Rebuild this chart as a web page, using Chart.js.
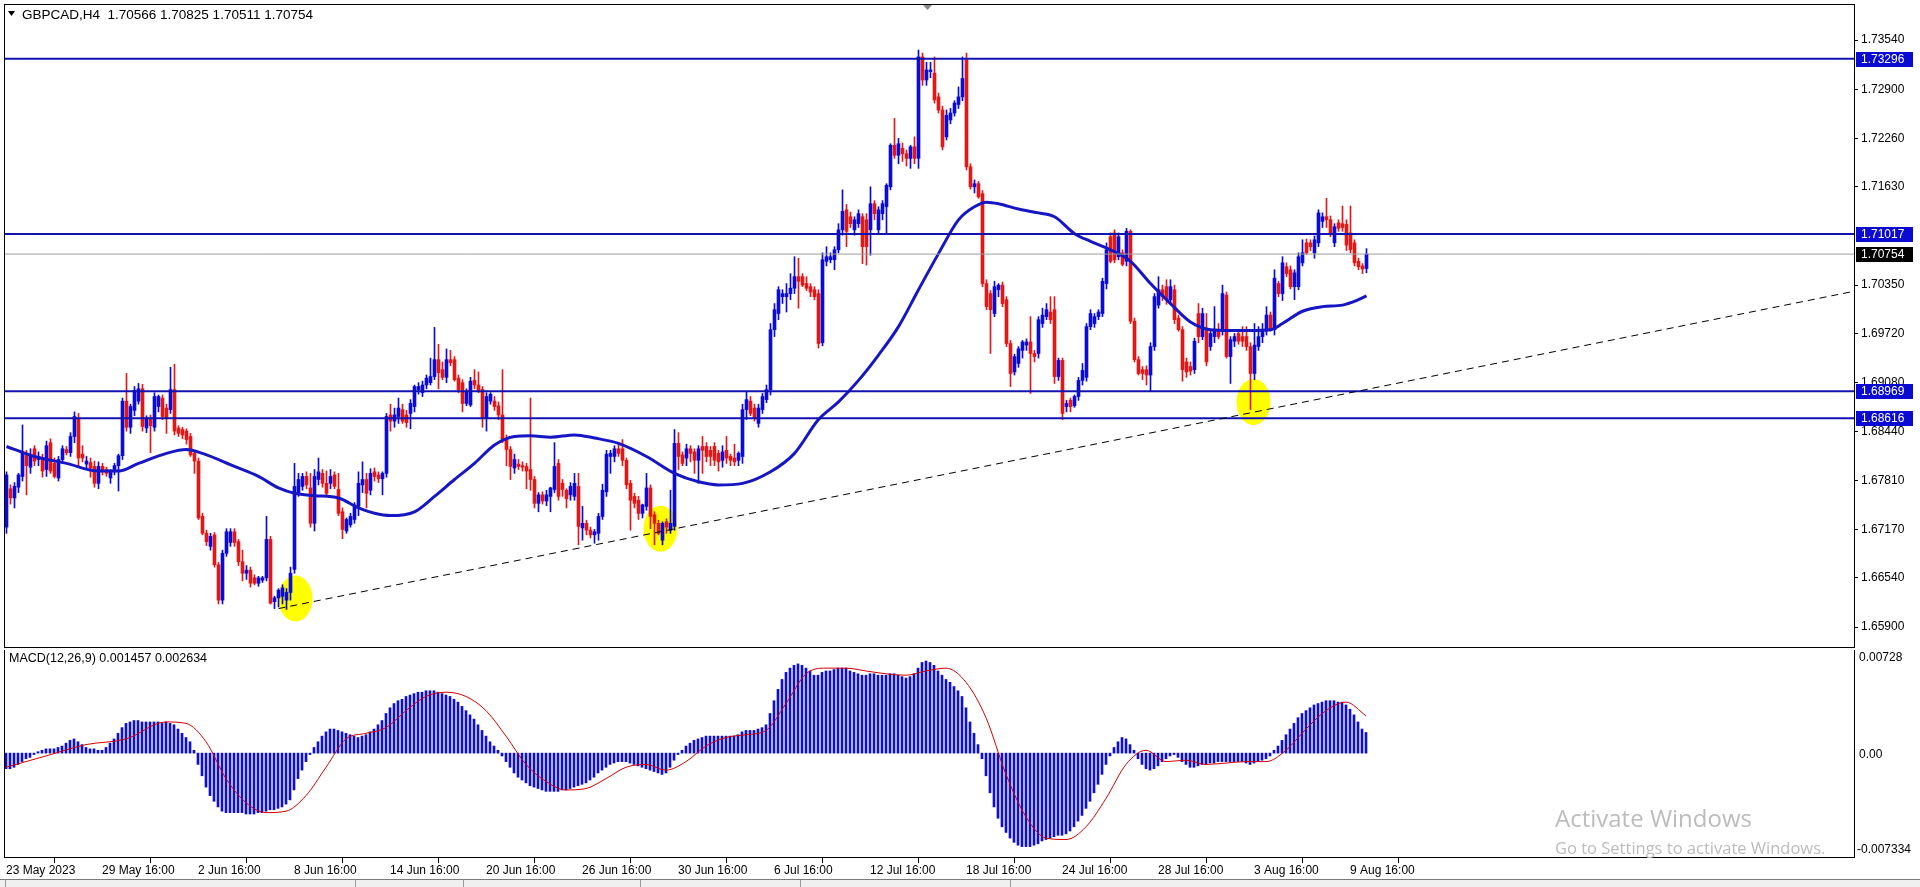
<!DOCTYPE html>
<html>
<head>
<meta charset="utf-8">
<title>GBPCAD,H4</title>
<script src="https://cdn.jsdelivr.net/npm/chart.js@4.4.0/dist/chart.umd.min.js"></script>
<style>
  html, body { margin: 0; padding: 0; background: #fff; width: 1920px; height: 887px; overflow: hidden; }
  #wrap { position: relative; width: 1920px; height: 887px; }
  canvas { position: absolute; left: 0; }
  #price { top: 0; }
  #macd { top: 650px; }
  .wm { position: absolute; left: 1555px; color: #bcbcbc; font-family: 'Open Sans', sans-serif; white-space: nowrap; }
  #wm1 { top: 801px; font-size: 24px; }
  #wm2 { top: 836px; font-size: 16.5px; }
  #tabs { position: absolute; left: 0; top: 879px; width: 1920px; height: 8px; background: #f0f0f0; border-top: 1px solid #7a7a7a; }
  #tabs span { position: absolute; top: 0; height: 8px; border-left: 1px solid #9a9a9a; }
</style>
</head>
<body>
<div id="wrap">
  <canvas id="price" width="1920" height="650"></canvas>
  <canvas id="macd" width="1920" height="237"></canvas>
  <div class="wm" id="wm1">Activate Windows</div>
  <div class="wm" id="wm2">Go to Settings to activate Windows.</div>
  <div id="tabs">
    <span style="left:5px"></span><span style="left:355px"></span><span style="left:463px"></span>
    <span style="left:640px"></span><span style="left:800px"></span><span style="left:1010px"></span>
  </div>
</div>
<script>
'use strict';

// ---- data (GBPCAD H4, bar 0 = 23 May 2023 16:00) ----
const opens = [
  1.6720,1.6770,1.6758,1.6772,1.6786,1.6816,1.6798,1.6822,1.6808,1.6810,
  1.6795,1.6830,1.6803,1.6784,1.6808,1.6821,1.6817,1.6838,1.6862,1.6815,
  1.6802,1.6804,1.6799,1.6777,1.6799,1.6795,1.6784,1.6792,1.6800,1.6813,
  1.6884,1.6850,1.6872,1.6884,1.6900,1.6849,1.6862,1.6850,1.6877,1.6888,
  1.6875,1.6873,1.6899,1.6849,1.6847,1.6845,1.6838,1.6816,1.6806,1.6734,
  1.6712,1.6695,1.6710,1.6671,1.6625,1.6686,1.6700,1.6714,1.6701,1.6675,
  1.6660,1.6664,1.6654,1.6647,1.6651,1.6654,1.6704,1.6623,1.6628,1.6630,
  1.6625,1.6635,1.6665,1.6764,1.6773,1.6786,1.6771,1.6725,1.6782,1.6790,
  1.6777,1.6777,1.6788,1.6769,1.6740,1.6715,1.6723,1.6730,1.6747,1.6775,
  1.6782,1.6768,1.6792,1.6788,1.6783,1.6790,1.6866,1.6858,1.6864,1.6873,
  1.6866,1.6868,1.6877,1.6899,1.6895,1.6905,1.6908,1.6916,1.6938,1.6925,
  1.6915,1.6938,1.6938,1.6914,1.6908,1.6881,1.6879,1.6911,1.6905,1.6899,
  1.6862,1.6884,1.6884,1.6878,1.6866,1.6834,1.6821,1.6797,1.6802,1.6800,
  1.6799,1.6795,1.6782,1.6751,1.6762,1.6754,1.6760,1.6769,1.6803,1.6777,
  1.6768,1.6762,1.6760,1.6773,1.6719,1.6725,1.6716,1.6710,1.6712,1.6734,
  1.6766,1.6812,1.6812,1.6822,1.6822,1.6807,1.6777,1.6760,1.6755,1.6738,
  1.6747,1.6771,1.6736,1.6725,1.6703,1.6727,1.6716,1.6721,1.6829,1.6814,
  1.6810,1.6822,1.6818,1.6807,1.6825,1.6825,1.6820,1.6825,1.6816,1.6807,
  1.6820,1.6812,1.6810,1.6807,1.6812,1.6873,1.6884,1.6875,1.6855,1.6873,
  1.6886,1.6899,1.6977,1.6998,1.7020,1.7020,1.7024,1.7031,1.7046,1.7046,
  1.7037,1.7033,1.7029,1.7024,1.6960,1.7066,1.7068,1.7068,1.7081,1.7107,
  1.7133,1.7124,1.7107,1.7115,1.7124,1.7120,1.7107,1.7141,1.7107,1.7128,
  1.7137,1.7163,1.7217,1.7204,1.7213,1.7206,1.7200,1.7215,1.7200,1.7332,
  1.7302,1.7313,1.7311,1.7280,1.7263,1.7228,1.7250,1.7259,1.7270,1.7280,
  1.7328,1.7189,1.7163,1.7167,1.7154,1.7037,1.7024,1.6998,1.7029,1.7035,
  1.7016,1.6959,1.6922,1.6933,1.6950,1.6957,1.6961,1.6946,1.6946,1.6985,
  1.6994,1.7000,1.7003,1.6916,1.6937,1.6877,1.6885,1.6878,1.6890,1.6911,
  1.6915,1.6981,1.6985,1.6994,1.6998,1.7037,1.7098,1.7103,1.7072,1.7077,
  1.7066,1.7105,1.6988,1.6938,1.6925,1.6925,1.6918,1.6955,1.7009,1.7029,
  1.7033,1.7016,1.7029,1.6992,1.6977,1.6935,1.6929,1.6925,1.6998,1.6968,
  1.6977,1.6955,1.6968,1.6977,1.6977,1.7022,1.6942,1.6962,1.6972,1.6968,
  1.6968,1.6955,1.6920,1.6955,1.6968,1.6975,1.6996,1.6977,1.7037,1.7024,
  1.7059,1.7055,1.7033,1.7033,1.7064,1.7090,1.7090,1.7077,1.7090,1.7118,
  1.7124,1.7120,1.7090,1.7116,1.7115,1.7114,1.7103,1.7090,1.7066,1.7060,
  1.70566
];
const highs = [
  1.6792,1.6775,1.6778,1.6790,1.6853,1.6820,1.6822,1.6826,1.6818,1.6815,
  1.6832,1.6835,1.6810,1.6812,1.6826,1.6825,1.6843,1.6870,1.6868,1.6826,
  1.6812,1.6810,1.6806,1.6805,1.6803,1.6798,1.6795,1.6803,1.6815,1.6888,
  1.6920,1.6880,1.6903,1.6907,1.6906,1.6865,1.6866,1.6895,1.6892,1.6892,
  1.6880,1.6928,1.6932,1.6852,1.6850,1.6848,1.6842,1.6820,1.6810,1.6738,
  1.6716,1.6712,1.6713,1.6674,1.6690,1.6718,1.6718,1.6718,1.6704,1.6690,
  1.6670,1.6668,1.6658,1.6656,1.6656,1.6734,1.6708,1.6630,1.6640,1.6645,
  1.6640,1.6668,1.6803,1.6790,1.6790,1.6792,1.6790,1.6795,1.6810,1.6795,
  1.6793,1.6795,1.6792,1.6790,1.6745,1.6732,1.6738,1.6752,1.6792,1.6805,
  1.6790,1.6796,1.6797,1.6792,1.6792,1.6868,1.6880,1.6875,1.6888,1.6880,
  1.6872,1.6886,1.6905,1.6908,1.6910,1.6918,1.6940,1.6980,1.6958,1.6935,
  1.6952,1.6950,1.6942,1.6918,1.6912,1.6900,1.6915,1.6925,1.6922,1.6903,
  1.6895,1.6895,1.6890,1.6883,1.6925,1.6840,1.6825,1.6815,1.6808,1.6805,
  1.6803,1.6888,1.6786,1.6765,1.6766,1.6768,1.6772,1.6830,1.6808,1.6782,
  1.6770,1.6778,1.6790,1.6790,1.6747,1.6729,1.6720,1.6717,1.6738,1.6776,
  1.6820,1.6820,1.6826,1.6830,1.6834,1.6810,1.6781,1.6764,1.6760,1.6750,
  1.6790,1.6775,1.6740,1.6729,1.6727,1.6731,1.6768,1.6847,1.6843,1.6818,
  1.6828,1.6826,1.6822,1.6826,1.6838,1.6830,1.6825,1.6830,1.6820,1.6826,
  1.6838,1.6815,1.6828,1.6818,1.6880,1.6896,1.6890,1.6880,1.6880,1.6894,
  1.6905,1.6985,1.7011,1.7033,1.7029,1.7037,1.7050,1.7072,1.7070,1.7050,
  1.7046,1.7037,1.7033,1.7029,1.7077,1.7085,1.7077,1.7085,1.7115,1.7159,
  1.7140,1.7130,1.7124,1.7133,1.7128,1.7128,1.7163,1.7145,1.7137,1.7145,
  1.7167,1.7219,1.7252,1.7226,1.7220,1.7211,1.7217,1.7228,1.7341,1.7337,
  1.7325,1.7325,1.7332,1.7285,1.7268,1.7263,1.7265,1.7275,1.7293,1.7332,
  1.7337,1.7193,1.7172,1.7170,1.7158,1.7042,1.7028,1.7040,1.7037,1.7039,
  1.7020,1.6963,1.6945,1.6955,1.6963,1.6965,1.6994,1.6950,1.6994,1.7005,
  1.7011,1.7020,1.7020,1.6940,1.6940,1.6885,1.6888,1.6892,1.6915,1.6933,
  1.6985,1.7003,1.6998,1.7003,1.7044,1.7090,1.7103,1.7107,1.7103,1.7081,
  1.7109,1.7107,1.6992,1.6942,1.6929,1.6930,1.6960,1.7024,1.7046,1.7035,
  1.7042,1.7042,1.7035,1.6996,1.6981,1.6940,1.6935,1.6966,1.7011,1.7005,
  1.6998,1.6975,1.7007,1.6985,1.7035,1.7026,1.6968,1.6972,1.6977,1.6981,
  1.6981,1.6960,1.6985,1.6981,1.6985,1.7007,1.7000,1.7055,1.7040,1.7072,
  1.7064,1.7060,1.7055,1.7077,1.7094,1.7095,1.7094,1.7099,1.7133,1.7129,
  1.7148,1.7125,1.7115,1.7120,1.7138,1.7120,1.7138,1.7094,1.7070,1.7063,
  1.70825
];
const lows = [
  1.6712,1.6750,1.6745,1.6765,1.6780,1.6762,1.6790,1.6800,1.6800,1.6785,
  1.6786,1.6790,1.6784,1.6780,1.6805,1.6814,1.6812,1.6830,1.6800,1.6805,
  1.6795,1.6785,1.6772,1.6770,1.6788,1.6786,1.6777,1.6788,1.6767,1.6808,
  1.6845,1.6842,1.6865,1.6880,1.6845,1.6843,1.6817,1.6845,1.6870,1.6860,
  1.6842,1.6868,1.6840,1.6838,1.6835,1.6828,1.6812,1.6790,1.6730,1.6710,
  1.6696,1.6690,1.6668,1.6620,1.6620,1.6682,1.6695,1.6695,1.6670,1.6650,
  1.6652,1.6642,1.6645,1.6643,1.6648,1.6650,1.6620,1.6614,1.6616,1.6620,
  1.6613,1.6625,1.6660,1.6760,1.6768,1.6770,1.6720,1.6715,1.6775,1.6772,
  1.6760,1.6770,1.6770,1.6735,1.6705,1.6712,1.6720,1.6725,1.6735,1.6765,
  1.6745,1.6762,1.6780,1.6778,1.6762,1.6785,1.6845,1.6850,1.6855,1.6855,
  1.6850,1.6848,1.6870,1.6893,1.6890,1.6900,1.6905,1.6912,1.6900,1.6912,
  1.6908,1.6930,1.6910,1.6895,1.6870,1.6878,1.6877,1.6900,1.6895,1.6850,
  1.6845,1.6880,1.6872,1.6860,1.6830,1.6800,1.6782,1.6790,1.6795,1.6793,
  1.6770,1.6768,1.6745,1.6740,1.6750,1.6748,1.6740,1.6765,1.6755,1.6760,
  1.6745,1.6755,1.6755,1.6697,1.6703,1.6710,1.6706,1.6699,1.6703,1.6730,
  1.6760,1.6790,1.6805,1.6812,1.6800,1.6770,1.6716,1.6745,1.6730,1.6732,
  1.6742,1.6718,1.6697,1.6710,1.6697,1.6712,1.6712,1.6716,1.6795,1.6800,
  1.6800,1.6805,1.6790,1.6777,1.6790,1.6805,1.6800,1.6800,1.6793,1.6798,
  1.6803,1.6800,1.6800,1.6800,1.6803,1.6860,1.6865,1.6858,1.6850,1.6868,
  1.6882,1.6892,1.6968,1.6990,1.7011,1.7000,1.7016,1.7024,1.7005,1.7033,
  1.7028,1.7020,1.7016,1.6953,1.6956,1.7060,1.7064,1.7055,1.7077,1.7100,
  1.7085,1.7110,1.7100,1.7110,1.7063,1.7061,1.7074,1.7120,1.7102,1.7120,
  1.7102,1.7159,1.7200,1.7193,1.7196,1.7190,1.7187,1.7193,1.7187,1.7295,
  1.7295,1.7305,1.7272,1.7259,1.7211,1.7224,1.7245,1.7255,1.7265,1.7275,
  1.7185,1.7160,1.7155,1.7148,1.7033,1.7003,1.6946,1.6994,1.7020,1.7007,
  1.6955,1.6903,1.6918,1.6928,1.6940,1.6950,1.6894,1.6935,1.6940,1.6980,
  1.6990,1.6985,1.6907,1.6911,1.6860,1.6870,1.6870,1.6876,1.6885,1.6905,
  1.6910,1.6977,1.6980,1.6990,1.6994,1.7030,1.7064,1.7064,1.7068,1.7060,
  1.7060,1.6985,1.6935,1.6918,1.6912,1.6905,1.6897,1.6950,1.7005,1.7015,
  1.7010,1.7010,1.6985,1.6975,1.6910,1.6915,1.6918,1.6920,1.6960,1.6964,
  1.6930,1.6950,1.6960,1.6965,1.6970,1.6940,1.6907,1.6955,1.6958,1.6955,
  1.6950,1.6873,1.6912,1.6950,1.6960,1.6970,1.6975,1.6970,1.7020,1.7015,
  1.7046,1.7030,1.7016,1.7029,1.7060,1.7075,1.7080,1.7070,1.7085,1.7110,
  1.7110,1.7098,1.7085,1.7105,1.7105,1.7080,1.7077,1.7060,1.7055,1.7050,
  1.70511
];
const closes = [
  1.6788,1.6758,1.6773,1.6788,1.6816,1.6800,1.6814,1.6806,1.6812,1.6793,
  1.6826,1.6793,1.6786,1.6808,1.6822,1.6817,1.6838,1.6864,1.6810,1.6810,
  1.6806,1.6797,1.6777,1.6799,1.6792,1.6790,1.6792,1.6800,1.6813,1.6884,
  1.6850,1.6877,1.6898,1.6900,1.6851,1.6862,1.6852,1.6890,1.6890,1.6864,
  1.6862,1.6899,1.6845,1.6842,1.6840,1.6834,1.6814,1.6806,1.6732,1.6712,
  1.6701,1.6708,1.6671,1.6625,1.6686,1.6714,1.6714,1.6700,1.6675,1.6660,
  1.6664,1.6647,1.6647,1.6654,1.6654,1.6704,1.6621,1.6628,1.6638,1.6641,
  1.6635,1.6660,1.6773,1.6782,1.6786,1.6775,1.6725,1.6786,1.6792,1.6777,
  1.6764,1.6786,1.6773,1.6738,1.6717,1.6730,1.6734,1.6749,1.6777,1.6782,
  1.6764,1.6790,1.6786,1.6783,1.6790,1.6864,1.6858,1.6866,1.6875,1.6858,
  1.6856,1.6881,1.6903,1.6903,1.6905,1.6914,1.6916,1.6938,1.6921,1.6915,
  1.6938,1.6934,1.6912,1.6899,1.6881,1.6897,1.6910,1.6905,1.6898,1.6862,
  1.6890,1.6893,1.6877,1.6866,1.6834,1.6821,1.6799,1.6808,1.6799,1.6798,
  1.6793,1.6782,1.6751,1.6762,1.6754,1.6762,1.6771,1.6799,1.6760,1.6769,
  1.6757,1.6773,1.6777,1.6721,1.6725,1.6716,1.6710,1.6714,1.6734,1.6768,
  1.6815,1.6816,1.6822,1.6816,1.6807,1.6775,1.6755,1.6751,1.6738,1.6749,
  1.6771,1.6734,1.6725,1.6712,1.6725,1.6720,1.6725,1.6829,1.6812,1.6803,
  1.6822,1.6816,1.6807,1.6822,1.6820,1.6812,1.6812,1.6807,1.6805,1.6818,
  1.6810,1.6807,1.6805,1.6816,1.6873,1.6886,1.6868,1.6862,1.6875,1.6890,
  1.6899,1.6977,1.7003,1.7029,1.7024,1.7024,1.7031,1.7046,1.7040,1.7035,
  1.7031,1.7026,1.7020,1.6959,1.7068,1.7072,1.7072,1.7081,1.7107,1.7131,
  1.7105,1.7115,1.7120,1.7128,1.7085,1.7085,1.7141,1.7128,1.7133,1.7141,
  1.7165,1.7217,1.7204,1.7219,1.7206,1.7200,1.7215,1.7200,1.7332,1.7302,
  1.7315,1.7315,1.7276,1.7263,1.7215,1.7256,1.7259,1.7272,1.7280,1.7304,
  1.7189,1.7163,1.7167,1.7150,1.7037,1.7007,1.7003,1.7033,1.7035,1.7011,
  1.6959,1.6920,1.6942,1.6952,1.6961,1.6961,1.6946,1.6942,1.6990,1.6996,
  1.7003,1.6990,1.6916,1.6937,1.6868,1.6881,1.6877,1.6890,1.6911,1.6924,
  1.6981,1.6998,1.6994,1.7000,1.7040,1.7081,1.7066,1.7068,1.7098,1.7062,
  1.7105,1.6988,1.6938,1.6920,1.6920,1.6918,1.6955,1.7020,1.7029,1.7020,
  1.7016,1.7033,1.6990,1.6977,1.6925,1.6922,1.6923,1.6962,1.6968,1.6998,
  1.6935,1.6972,1.6977,1.6968,1.7024,1.6942,1.6964,1.6968,1.6962,1.6962,
  1.6955,1.6920,1.6957,1.6968,1.6977,1.6996,1.6977,1.7044,1.7024,1.7064,
  1.7050,1.7033,1.7051,1.7072,1.7077,1.7077,1.7085,1.7094,1.7129,1.7124,
  1.7120,1.7103,1.7111,1.7109,1.7110,1.7087,1.7081,1.7064,1.7059,1.7056,
  1.70754
];

// moving average (thick blue line), read at selected bars
const maBars = [0,7,15,23,28,33,40,45,49,57,63,68,72,77,83,88,92,96,102,107,112,117,122,127,131,136,142,147,153,160,167,173,178,184,191,197,203,208,213,218,223,228,233,238,242,245,248,253,258,262,267,271,276,281,286,291,296,301,306,311,316,319,324,329,334,338,340];
const maValues = [1.6825,1.6812,1.6803,1.6793,1.6793,1.6803,1.6816,1.6821,1.6816,1.6799,1.6786,1.6771,1.6764,1.6761,1.6758,1.6745,1.6738,1.6735,1.6740,1.6760,1.6782,1.6803,1.6827,1.6838,1.6839,1.6837,1.6840,1.6836,1.6829,1.6812,1.6790,1.6779,1.6775,1.6777,1.6792,1.6816,1.6860,1.6883,1.6911,1.6944,1.6981,1.7029,1.7076,1.7120,1.7137,1.7143,1.7141,1.7134,1.7129,1.7124,1.7102,1.7092,1.7081,1.7066,1.7037,1.7011,1.6987,1.6977,1.6976,1.6976,1.6977,1.6985,1.7001,1.7007,1.7009,1.7016,1.7021];

// horizontal levels and current price
const levelPrices = [1.73296, 1.71017, 1.68969, 1.68616];
const lastPrice = 1.70754;

// dashed trend line (bar, price)
const trendBars = [68, 461.875];
const trendPrices = [1.6614, 1.7027];

// yellow highlight marks (bar, price)
const markBars = [72.25, 163.5, 311.75];
const markPrices = [1.6627, 1.6718, 1.6883];

const priceTicks = [1.73540, 1.72900, 1.72260, 1.71630, 1.70350, 1.69720, 1.69080, 1.68440, 1.67810, 1.67170, 1.66540, 1.65900];

// MACD(12,26,9) main (histogram) per bar
const macdHist = [
  -0.0011,-0.0011,-0.0010,-0.0008,-0.0006,-0.0004,-0.0003,-0.0001,0.0001,0.0002,
  0.0003,0.0003,0.0003,0.0004,0.0005,0.0007,0.0009,0.0010,0.0008,0.0006,
  0.0004,0.0003,0.0003,0.0002,0.0002,0.0004,0.0007,0.0010,0.0014,0.0018,
  0.0021,0.0022,0.0023,0.0023,0.0022,0.0022,0.0022,0.0022,0.0022,0.0021,
  0.0022,0.0021,0.0020,0.0017,0.0014,0.0011,0.0008,0.0002,-0.0008,-0.0016,
  -0.0024,-0.0030,-0.0034,-0.0038,-0.0041,-0.0042,-0.0042,-0.0042,-0.0042,-0.0042,
  -0.0043,-0.0043,-0.0043,-0.0042,-0.0042,-0.0041,-0.0040,-0.0040,-0.0039,-0.0038,
  -0.0036,-0.0033,-0.0026,-0.0018,-0.0012,-0.0006,-0.0001,0.0004,0.0008,0.0012,
  0.0015,0.0017,0.0017,0.0016,0.0015,0.0014,0.0013,0.0012,0.0011,0.0012,
  0.0013,0.0015,0.0017,0.0020,0.0023,0.0028,0.0032,0.0035,0.0037,0.0038,
  0.0040,0.0041,0.0042,0.0043,0.0043,0.0044,0.0044,0.0044,0.0043,0.0042,
  0.0041,0.0040,0.0038,0.0036,0.0033,0.0030,0.0027,0.0024,0.0020,0.0016,
  0.0012,0.0008,0.0005,0.0002,-0.0002,-0.0006,-0.0010,-0.0014,-0.0017,-0.0019,
  -0.0021,-0.0023,-0.0024,-0.0025,-0.0026,-0.0027,-0.0027,-0.0027,-0.0027,-0.0026,
  -0.0026,-0.0025,-0.0024,-0.0023,-0.0022,-0.0021,-0.0019,-0.0017,-0.0014,-0.0012,
  -0.0010,-0.0008,-0.0007,-0.0006,-0.0006,-0.0006,-0.0007,-0.0008,-0.0009,-0.0010,
  -0.0011,-0.0012,-0.0013,-0.0014,-0.0015,-0.0014,-0.0010,-0.0005,-0.0001,0.0002,
  0.0005,0.0007,0.0009,0.0010,0.0011,0.0012,0.0012,0.0012,0.0012,0.0012,
  0.0012,0.0012,0.0012,0.0013,0.0015,0.0016,0.0016,0.0016,0.0017,0.0018,
  0.0020,0.0028,0.0037,0.0045,0.0052,0.0057,0.0060,0.0062,0.0063,0.0062,
  0.0060,0.0058,0.0055,0.0055,0.0057,0.0058,0.0058,0.0059,0.0060,0.0060,
  0.0060,0.0058,0.0057,0.0056,0.0055,0.0055,0.0056,0.0056,0.0055,0.0055,
  0.0055,0.0056,0.0056,0.0055,0.0054,0.0053,0.0054,0.0056,0.0060,0.0064,
  0.0065,0.0064,0.0062,0.0058,0.0055,0.0052,0.0050,0.0047,0.0044,0.0040,
  0.0032,0.0022,0.0014,0.0006,-0.0004,-0.0016,-0.0028,-0.0038,-0.0046,-0.0052,
  -0.0056,-0.0060,-0.0063,-0.0065,-0.0066,-0.0066,-0.0066,-0.0065,-0.0064,-0.0062,
  -0.0061,-0.0060,-0.0059,-0.0058,-0.0058,-0.0057,-0.0055,-0.0052,-0.0048,-0.0044,
  -0.0039,-0.0034,-0.0028,-0.0022,-0.0015,-0.0008,-0.0002,0.0004,0.0008,0.0011,
  0.0010,0.0006,0.0002,-0.0004,-0.0008,-0.0011,-0.0012,-0.0011,-0.0009,-0.0006,
  -0.0004,-0.0002,-0.0001,-0.0003,-0.0006,-0.0008,-0.0010,-0.0010,-0.0009,-0.0008,
  -0.0008,-0.0007,-0.0007,-0.0006,-0.0006,-0.0006,-0.0006,-0.0006,-0.0006,-0.0006,
  -0.0007,-0.0008,-0.0007,-0.0006,-0.0005,-0.0004,-0.0002,0.0002,0.0005,0.0009,
  0.0013,0.0017,0.0021,0.0025,0.0028,0.0030,0.0032,0.0034,0.0035,0.0036,
  0.0037,0.0037,0.0037,0.0036,0.0036,0.0034,0.0031,0.0027,0.0022,0.0017,
  0.001457
];
// MACD signal line, read at selected bars
const sigBars = [0,10,20,30,40,45,50,55,60,65,70,75,80,85,90,95,100,105,110,115,120,125,130,135,140,145,150,155,160,165,170,175,180,185,190,195,200,205,210,215,220,225,230,235,240,245,250,255,260,265,270,275,280,285,290,295,300,305,310,315,320,325,330,335,340];
const sigValues = [-0.0010,-0.0002,0.0006,0.0010,0.0022,0.0021,0.0008,-0.0018,-0.0035,-0.0042,-0.0041,-0.0030,-0.0010,0.0010,0.0014,0.0018,0.0030,0.0040,0.0043,0.0040,0.0030,0.0012,-0.0008,-0.0020,-0.0026,-0.0025,-0.0018,-0.0010,-0.0008,-0.0012,-0.0006,0.0005,0.0011,0.0013,0.0016,0.0035,0.0056,0.0060,0.0060,0.0058,0.0056,0.0055,0.0058,0.0060,0.0050,0.0025,-0.0015,-0.0045,-0.0060,-0.0061,-0.0052,-0.0032,-0.0008,0.0002,-0.0006,-0.0005,-0.0008,-0.0007,-0.0006,-0.0006,0.0002,0.0017,0.0030,0.0036,0.002634];

const timeBars = [0,24,48,72,96,120,144,168,192,216,240,264,288,312,336];
const timeLabels = ['23 May 2023','29 May 16:00','2 Jun 16:00','8 Jun 16:00','14 Jun 16:00','20 Jun 16:00','26 Jun 16:00','30 Jun 16:00','6 Jul 16:00','12 Jul 16:00','18 Jul 16:00','24 Jul 16:00','28 Jul 16:00','3 Aug 16:00','9 Aug 16:00'];

// ---- styling ----
const BULL = '#0b0bd8';
const BEAR = '#e01818';
const LEVEL = '#1212b0';
const FONT = "'Liberation Sans', Arial, sans-serif";
const X_MIN = -0.375;
const X_MAX = 461.875;

Chart.defaults.font.family = FONT;
Chart.defaults.font.size = 12;
Chart.defaults.color = '#000';

function pts(xs, ys) {
  return xs.map(function (x, i) { return { x: x, y: ys[i] }; });
}

const bodyColors = closes.map(function (c, i) { return c >= opens[i] ? BULL : BEAR; });
const wickData = lows.map(function (l, i) { return { x: i, y: [l, highs[i]] }; });
const bodyData = opens.map(function (o, i) { return { x: i, y: [o, closes[i]] }; });

const framePlugin = {
  id: 'frame',
  afterDraw: function (chart) {
    const a = chart.chartArea;
    const ctx = chart.ctx;
    ctx.save();
    ctx.strokeStyle = '#000';
    ctx.lineWidth = 1;
    ctx.strokeRect(a.left - 0.5, a.top - 0.5, a.right - a.left + 1, a.bottom - a.top + 1);
    ctx.restore();
  }
};

const marksPlugin = {
  id: 'marks',
  beforeDatasetsDraw: function (chart) {
    const ctx = chart.ctx;
    const xs = chart.scales.x;
    const ys = chart.scales.y;
    ctx.save();
    ctx.fillStyle = '#ffff00';
    markBars.forEach(function (b, i) {
      ctx.beginPath();
      ctx.ellipse(xs.getPixelForValue(b), ys.getPixelForValue(markPrices[i]), 17, 23, 0, 0, Math.PI * 2);
      ctx.fill();
    });
    ctx.restore();
  }
};

const priceTagsPlugin = {
  id: 'priceTags',
  afterDraw: function (chart) {
    const ctx = chart.ctx;
    const ys = chart.scales.y;
    const x0 = chart.chartArea.right + 2;
    ctx.save();
    ctx.font = '12px ' + FONT;
    ctx.textBaseline = 'middle';
    function tag(v, bg) {
      const py = Math.round(ys.getPixelForValue(v));
      ctx.fillStyle = bg;
      ctx.fillRect(x0, py - 7, 57, 15);
      ctx.fillStyle = '#fff';
      ctx.fillText(v.toFixed(5), x0 + 5, py + 1);
    }
    levelPrices.forEach(function (v) { tag(v, '#0a0ad2'); });
    tag(lastPrice, '#000');

    // header
    ctx.fillStyle = '#000';
    ctx.beginPath();
    ctx.moveTo(8, 11); ctx.lineTo(15, 11); ctx.lineTo(11.5, 16); ctx.closePath();
    ctx.fill();
    ctx.font = '13.5px ' + FONT;
    ctx.fillText('GBPCAD,H4  1.70566 1.70825 1.70511 1.70754', 22, 15);
    // chart shift marker
    ctx.fillStyle = '#8a8a8a';
    ctx.beginPath();
    ctx.moveTo(923, 5); ctx.lineTo(932, 5); ctx.lineTo(927.5, 10); ctx.closePath();
    ctx.fill();
    ctx.restore();
  }
};

const macdTextPlugin = {
  id: 'macdText',
  afterDraw: function (chart) {
    const ctx = chart.ctx;
    const ys = chart.scales.y;
    const x0 = chart.chartArea.right + 4;
    ctx.save();
    ctx.font = '12.5px ' + FONT;
    ctx.fillStyle = '#000';
    ctx.textBaseline = 'middle';
    ctx.fillText('MACD(12,26,9) 0.001457 0.002634', 9, 9);
    ctx.font = '12px ' + FONT;
    ctx.fillText('0.00728', x0 + 1, 8);
    ctx.fillText('0.00', x0 + 1, Math.round(ys.getPixelForValue(0)) + 2);
    ctx.fillText('-0.007334', x0 - 1, chart.chartArea.bottom - 7);
    ctx.restore();
  }
};

// ---- price chart ----
const priceDatasets = [
  {
    type: 'line', data: pts(trendBars, trendPrices), borderColor: '#000', borderWidth: 1,
    borderDash: [7, 5], pointRadius: 0, order: 1
  },
  {
    type: 'line', data: pts([X_MIN, X_MAX], [lastPrice, lastPrice]), borderColor: '#9c9c9c',
    borderWidth: 1, pointRadius: 0, order: 1
  }
];
levelPrices.forEach(function (v) {
  priceDatasets.push({
    type: 'line', data: pts([X_MIN, X_MAX], [v, v]), borderColor: LEVEL, borderWidth: 2,
    pointRadius: 0, order: 1
  });
});
priceDatasets.push({
  type: 'line', data: pts(maBars, maValues), borderColor: '#1616c4', borderWidth: 3,
  pointRadius: 0, cubicInterpolationMode: 'monotone', order: 2
});
priceDatasets.push({
  type: 'bar', data: bodyData, backgroundColor: bodyColors, barThickness: 3, grouped: false,
  minBarLength: 1, order: 3
});
priceDatasets.push({
  type: 'bar', data: wickData, backgroundColor: bodyColors, barThickness: 1, grouped: false,
  order: 4
});

new Chart(document.getElementById('price'), {
  type: 'bar',
  data: { datasets: priceDatasets },
  options: {
    responsive: false,
    animation: false,
    devicePixelRatio: 1,
    layout: { padding: { left: 5, top: 5, right: 0, bottom: 3 } },
    plugins: { legend: { display: false }, tooltip: { enabled: false } },
    scales: {
      x: { type: 'linear', min: X_MIN, max: X_MAX, offset: false, display: false },
      y: {
        type: 'linear',
        position: 'right',
        min: 1.65640,
        max: 1.73996,
        afterBuildTicks: function (scale) {
          scale.ticks = priceTicks.map(function (v) { return { value: v }; });
        },
        afterFit: function (scale) {
          scale.width = 66;
          scale.paddingTop = 0;
          scale.paddingBottom = 0;
        },
        ticks: {
          padding: 3,
          font: { size: 12 },
          callback: function (v) { return Number(v).toFixed(5); }
        },
        grid: { drawOnChartArea: false, tickLength: 4, color: '#000' },
        border: { display: false }
      }
    }
  },
  plugins: [marksPlugin, framePlugin, priceTagsPlugin]
});

// ---- MACD chart ----
new Chart(document.getElementById('macd'), {
  type: 'bar',
  data: {
    datasets: [
      {
        type: 'line', data: pts(sigBars, sigValues), borderColor: '#d40000', borderWidth: 1,
        pointRadius: 0, cubicInterpolationMode: 'monotone', order: 1
      },
      {
        type: 'bar', data: macdHist.map(function (v, i) { return { x: i, y: v }; }),
        backgroundColor: '#0e0ed0', barThickness: 2, grouped: false, order: 2
      }
    ]
  },
  options: {
    responsive: false,
    animation: false,
    devicePixelRatio: 1,
    layout: { padding: { left: 5, top: 0, right: 0, bottom: 0 } },
    plugins: { legend: { display: false }, tooltip: { enabled: false } },
    scales: {
      x: {
        type: 'linear',
        min: -0.25,
        max: 462,
        offset: false,
        afterBuildTicks: function (scale) {
          scale.ticks = timeBars.map(function (v) { return { value: v }; });
        },
        afterFit: function (scale) {
          scale.height = 30;
          scale.paddingLeft = 0;
          scale.paddingRight = 0;
        },
        ticks: {
          autoSkip: false,
          maxRotation: 0,
          align: 'start',
          labelOffset: 0,
          padding: 0,
          font: { size: 12 },
          callback: function (v, i) { return timeLabels[i]; }
        },
        grid: { drawOnChartArea: false, tickLength: 6, color: '#000' },
        border: { display: false }
      },
      y: {
        type: 'linear',
        position: 'right',
        min: -0.007334,
        max: 0.00728,
        afterFit: function (scale) {
          scale.width = 66;
          scale.paddingTop = 0;
          scale.paddingBottom = 0;
        },
        ticks: { display: false },
        grid: { display: false },
        border: { display: false }
      }
    }
  },
  plugins: [framePlugin, macdTextPlugin]
});
</script>
</body>
</html>
